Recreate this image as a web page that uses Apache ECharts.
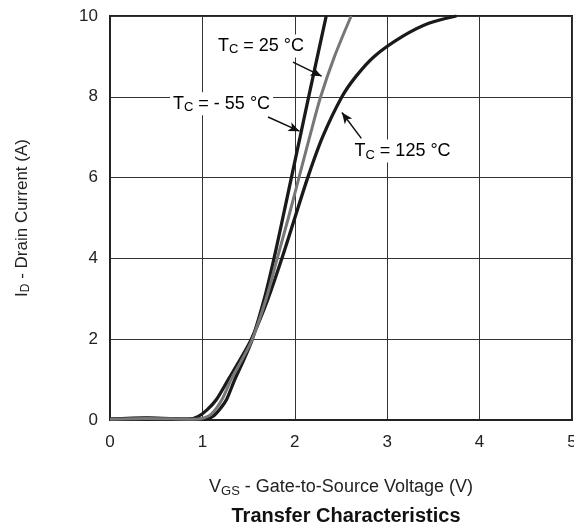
<!DOCTYPE html>
<html>
<head>
<meta charset="utf-8">
<script src="https://cdn.jsdelivr.net/npm/echarts@6/dist/echarts.min.js"></script>
<style>html,body{margin:0;padding:0;background:#fff}#c{width:574px;height:525px}</style>
</head>
<body>
<div id="c"></div>
<script>
// Data (V_GS in V, I_D in A)
var curveM55 = [[0,0.02],[0.4,0.05],[0.9,0.02],[1.05,0.03],[1.12,0.1],[1.2,0.3],[1.26,0.5],[1.35,1.0],[1.45,1.5],[1.54,2.0],[1.67,3.0],[1.775,4.0],[1.87,5.0],[1.963,6.0],[2.057,7.0],[2.15,8.0],[2.245,9.0],[2.34,10.0]];
var curve25 = [[0,0.02],[0.4,0.04],[0.9,0.02],[1.0,0.04],[1.1,0.15],[1.21,0.5],[1.31,1.0],[1.43,1.5],[1.54,2.0],[1.69,3.0],[1.81,4.0],[1.93,5.0],[2.045,6.0],[2.16,7.0],[2.28,8.0],[2.43,9.0],[2.61,10.0]];
var curve125 = [[0,0.02],[0.4,0.04],[0.85,0.02],[0.95,0.08],[1.05,0.25],[1.15,0.5],[1.28,1.0],[1.41,1.5],[1.53,2.0],[1.71,3.0],[1.86,4.0],[2.0,5.0],[2.14,6.0],[2.3,7.0],[2.51,8.0],[2.66,8.5],[2.86,9.0],[3.17,9.5],[3.45,9.82],[3.75,10.0]];
var xTicks = [0,1,2,3,4,5];
var yTicks = [0,2,4,6,8,10];
var labelNames = ['25', '- 55', '125'];
var labelAnchors = [[1.634,9.26],[1.207,7.83],[3.166,6.66]];
var arrows = [[[1.98,8.86],[2.29,8.51]],[[1.71,7.50],[2.05,7.15]],[[2.72,6.97],[2.51,7.61]]];

var FONT = '"Liberation Sans", Arial, sans-serif';
var chart = echarts.init(document.getElementById('c'), null, {renderer:'canvas'});
var rich = {
  a:{fontSize:18, fontFamily:FONT, color:'#222'},
  s:{fontSize:13, fontFamily:FONT, color:'#222', padding:[8,0,0,0]}
};
var option = {
  backgroundColor:'#fff',
  animation:false,
  title:{text:'Transfer Characteristics', left:341, top:501, textAlign:'center',
    textStyle:{fontFamily:FONT, fontWeight:'bold', fontSize:20, color:'#111'}},
  grid:{left:110, right:2, top:16, bottom:105, show:true, borderColor:'#222', borderWidth:2, outerBoundsMode:'none', containLabel:false},
  xAxis:{type:'value', min:xTicks[0], max:xTicks[xTicks.length-1], interval:1,
    axisLine:{show:true, lineStyle:{color:'#222', width:2}}, axisTick:{show:false},
    axisLabel:{fontFamily:FONT, fontSize:17, color:'#222', margin:14},
    splitLine:{show:true, lineStyle:{color:'#333', width:1}},
    name:'{a|V}{s|GS}{a| - Gate-to-Source Voltage (V)}', nameLocation:'middle', nameGap:56,
    nameTextStyle:{rich:{a:{fontSize:18,fontFamily:FONT,color:'#222'}, s:{fontSize:13,fontFamily:FONT,color:'#222',padding:[9,0,0,0]}}}},
  yAxis:{type:'value', min:yTicks[0], max:yTicks[yTicks.length-1], interval:2,
    axisLine:{show:true, lineStyle:{color:'#222', width:2}}, axisTick:{show:false},
    axisLabel:{fontFamily:FONT, fontSize:17, color:'#222', margin:12},
    splitLine:{show:true, lineStyle:{color:'#333', width:1}},
    name:'{a|I}{s|D}{a| - Drain Current (A)}', nameLocation:'middle', nameGap:78, nameRotate:90,
    nameTextStyle:{rich:{a:{fontSize:17,fontFamily:FONT,color:'#222'}, s:{fontSize:12,fontFamily:FONT,color:'#222',padding:[8,0,0,0]}}}},
  series:[
    {type:'line', name:'125', data:curve125, smooth:0.3, showSymbol:false, lineStyle:{color:'#1a1a1a', width:3.3}, clip:true, z:3},
    {type:'line', name:'-55', data:curveM55, smooth:0.3, showSymbol:false, lineStyle:{color:'#1a1a1a', width:3.3}, clip:true, z:3},
    {type:'line', name:'25', data:curve25, smooth:0.3, showSymbol:false, lineStyle:{color:'#777', width:3}, clip:true, z:4,
      markLine:{silent:true, symbol:['none','arrow'], symbolSize:[7,11], label:{show:false},
        lineStyle:{color:'#111', width:1.5, type:'solid'},
        data:arrows.map(function(a){return [{coord:a[0]},{coord:a[1]}];})}}
  ]
};
chart.setOption(option);
var g = labelAnchors.map(function(p,i){
  var px = chart.convertToPixel({gridIndex:0}, p);
  return {type:'text', x:px[0], y:px[1], z:100,
    style:{text:'{a|T}{s|C}{a| = '+labelNames[i]+' °C}', rich:rich, align:'center', verticalAlign:'middle',
      backgroundColor:'#fff', padding:[1,3,1,3]}};
});
chart.setOption({graphic:g});
</script>
</body>
</html>
